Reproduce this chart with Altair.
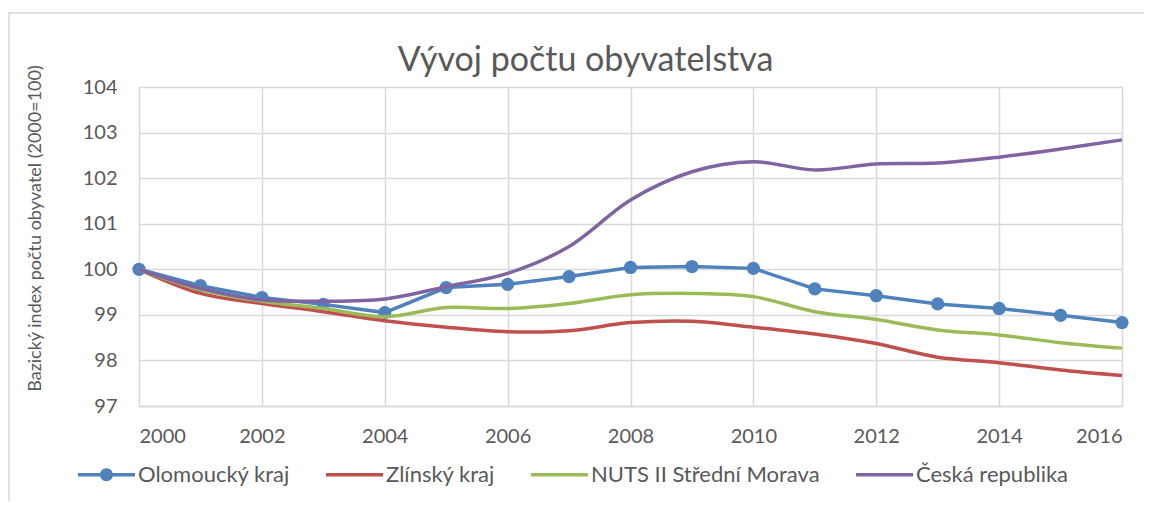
import altair as alt
import pandas as pd

years = list(range(2000, 2017))
series_names = ["Olomoucký kraj", "Zlínský kraj", "NUTS II Střední Morava", "Česká republika"]
olomoucky = [100.0, 99.64, 99.38, 99.23, 99.05, 99.60, 99.67, 99.84, 100.04, 100.06, 100.02, 99.57, 99.42, 99.24, 99.14, 98.99, 98.83]
zlinsky = [100.0, 99.47, 99.25, 99.07, 98.87, 98.73, 98.63, 98.65, 98.83, 98.86, 98.73, 98.58, 98.37, 98.07, 97.95, 97.79, 97.67]
nuts = [100.0, 99.55, 99.30, 99.14, 98.96, 99.16, 99.14, 99.25, 99.44, 99.47, 99.40, 99.07, 98.90, 98.67, 98.56, 98.39, 98.27]
cr = [100.0, 99.58, 99.33, 99.30, 99.35, 99.62, 99.91, 100.50, 101.52, 102.14, 102.36, 102.18, 102.31, 102.33, 102.46, 102.64, 102.84]
colors = ["#4F81BD", "#C0504D", "#9BBB59", "#8064A2"]
x_ticks = list(range(2000, 2017, 2))
y_ticks = list(range(97, 105))

rows = []
for name, vals in zip(series_names, [olomoucky, zlinsky, nuts, cr]):
    for yr, v in zip(years, vals):
        rows.append({"year": yr, "value": v, "series": name})
df = pd.DataFrame(rows)

FONT = "Lato"
GRAY = "#595959"
GRID = "#d9d9d9"

x_enc = alt.X("year:Q", scale=alt.Scale(domain=[2000, 2016], nice=False),
              axis=alt.Axis(values=x_ticks, format="d", title=None, grid=True,
                            gridColor=GRID, gridWidth=1.5, domainColor=GRID, domainWidth=1.5,
                            ticks=False, tickSize=0, labelPadding=20, labelFont=FONT,
                            labelFontSize=20, labelColor=GRAY))
y_enc = alt.Y("value:Q", scale=alt.Scale(domain=[97, 104], nice=False, zero=False),
              axis=alt.Axis(values=y_ticks, title="Bazický index počtu obyvatel (2000=100)",
                            grid=True, gridColor=GRID, gridWidth=1.5, domain=False,
                            ticks=False, tickSize=0, labelPadding=22, labelFont=FONT,
                            labelFontSize=20, labelColor=GRAY, titleFont=FONT,
                            titleFontSize=18, titleFontWeight="normal", titleColor=GRAY,
                            titleX=-104, titleY=141, titleAngle=270, titleAlign="center",
                            titleBaseline="middle"))

color_scale = alt.Scale(domain=series_names, range=colors)

blue_path = ("M-1,-0.0614 L1,-0.0614 L1,0.0614 L-1,0.0614 Z "
             "M-0.228,0 A0.228,0.228 0 0,1 0.228,0 A0.228,0.228 0 0,1 -0.228,0 Z")
line_path = "M-1,-0.0614 L1,-0.0614 L1,0.0614 L-1,0.0614 Z"
shape_scale = alt.Scale(domain=series_names, range=[blue_path, line_path, line_path, line_path])

legend = alt.Legend(title=None, orient="none", legendX=-61, legendY=359,
                    direction="horizontal", columns=4, symbolSize=3249,
                    symbolStrokeWidth=0, labelFont=FONT, labelFontSize=22,
                    labelColor=GRAY, labelLimit=400, columnPadding=36, labelOffset=3)

base = alt.Chart(df)

layers = []
border = alt.Chart(pd.DataFrame({"a": [0]})).mark_rect(
    fill=None, stroke=GRID, strokeWidth=1.5).encode(
    x=alt.value(-130), x2=alt.value(1300), y=alt.value(-74), y2=alt.value(700))
layers.append(border)

for i, (name, col) in enumerate(zip(series_names, colors)):
    sub = base.transform_filter(alt.datum.series == name)
    interp = "linear" if i == 0 else "cardinal"
    line = sub.mark_line(strokeWidth=3.5, interpolate=interp, color=col)
    if i == 0:
        layers.append(line.encode(x=x_enc, y=y_enc))
        layers.append(sub.mark_point(filled=True, size=175, opacity=1, color=col).encode(
            x="year:Q", y="value:Q"))
    else:
        layers.append(line.encode(x="year:Q", y="value:Q"))

legend_layer = base.transform_filter(alt.datum.year > 3000).mark_point(
    filled=True, opacity=1).encode(
    x="year:Q", y="value:Q",
    fill=alt.Fill("series:N", scale=color_scale, legend=legend),
    shape=alt.Shape("series:N", scale=shape_scale, legend=legend))
layers.append(legend_layer)

chart = alt.layer(*layers).properties(
    width=983, height=319,
    title=alt.TitleParams("Vývoj počtu obyvatelstva", font=FONT, fontSize=34,
                          fontWeight="normal", color=GRAY, anchor="middle", dx=-45,
                          offset=16, dy=109, baseline="alphabetic", frame="group"),
    autosize=alt.AutoSizeParams(type="none"),
    padding={"left": 131, "top": 79, "right": 22, "bottom": 95},
).configure_view(stroke=None).configure(background="white")

chart.save("out.html", embed_options={"renderer": "svg", "actions": False})
